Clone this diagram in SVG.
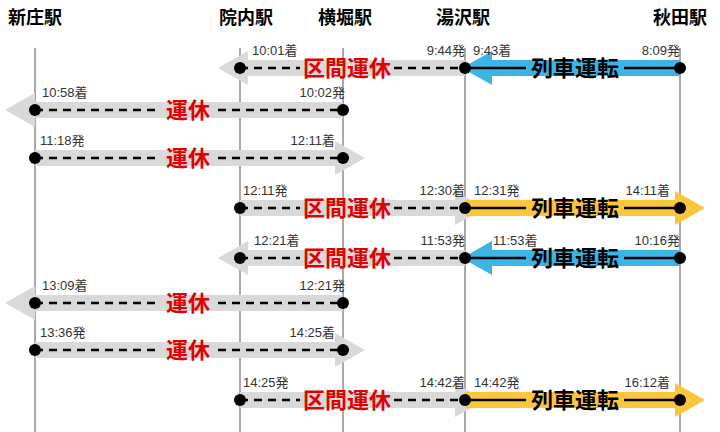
<svg xmlns="http://www.w3.org/2000/svg" width="720" height="432" viewBox="0 0 720 432">
<style>
.st{font:bold 18px "Noto Sans CJK JP","Liberation Sans",sans-serif;fill:#000;text-anchor:middle}
.t{font:13px "Liberation Sans","Noto Sans CJK JP",sans-serif;fill:#333}
.g{fill:#d9d9d9}.b{fill:#3cb4e6}.y{fill:#fcc63c}
.d{stroke:#000;stroke-width:2.5;stroke-dasharray:8,6;fill:none}
.s{stroke:#000;stroke-width:2.5;fill:none}
.lr{font:bold 22px "Noto Sans CJK JP",sans-serif;fill:#e30000;text-anchor:middle}
.lk{font:bold 22px "Noto Sans CJK JP",sans-serif;fill:#000;text-anchor:middle}
.v{stroke:#555;stroke-width:1}
</style>
<rect width="720" height="432" fill="#fff"/>
<g id="stations">
<text class="st" x="35" y="24">新庄駅</text><text class="st" x="246" y="24">院内駅</text>
<text class="st" x="345" y="24">横堀駅</text><text class="st" x="463" y="24">湯沢駅</text>
<text class="st" x="680" y="24">秋田駅</text>
<line class="v" x1="35" y1="48" x2="35" y2="432"/><line class="v" x1="240" y1="48" x2="240" y2="432"/>
<line class="v" x1="343" y1="48" x2="343" y2="432"/><line class="v" x1="465" y1="48" x2="465" y2="432"/>
<line class="v" x1="680" y1="48" x2="680" y2="432"/>
</g>
<g id="connectors">
<polygon class="g" points="465,60 248,60 248,51 218,68 248,85 248,76 465,76"/>
<polygon class="b" points="680,60 492,60 492,51 462,68 492,85 492,76 680,76"/>
<polygon class="g" points="343,102 35,102 35,93 5,110 35,127 35,118 343,118"/>
<polygon class="g" points="35,150 335,150 335,141 365,158 335,175 335,166 35,166"/>
<polygon class="g" points="240,200 455,200 455,191 485,208 455,225 455,216 240,216"/>
<polygon class="y" points="465,200 675,200 675,191 705,208 675,225 675,216 465,216"/>
<polygon class="g" points="465,250 248,250 248,241 218,258 248,275 248,266 465,266"/>
<polygon class="b" points="680,250 492,250 492,241 462,258 492,275 492,266 680,266"/>
<polygon class="g" points="343,295 35,295 35,286 5,303 35,320 35,311 343,311"/>
<polygon class="g" points="35,342 335,342 335,333 365,350 335,367 335,358 35,358"/>
<polygon class="g" points="240,392 455,392 455,383 485,400 455,417 455,408 240,408"/>
<polygon class="y" points="465,392 675,392 675,383 705,400 675,417 675,408 465,408"/>
<path class="d" d="M240,68H300M394,68H465M35,110H158M218,110H343M35,158H158M218,158H343M240,208H300M394,208H465M240,258H300M394,258H465M35,303H158M218,303H343M35,350H158M218,350H343M240,400H300M394,400H465"/>
<path class="s" d="M465,68H526M624,68H680M465,208H526M624,208H680M465,258H526M624,258H680M465,400H526M624,400H680"/>
<g fill="#000">
<circle cx="240" cy="68" r="6"/><circle cx="465" cy="68" r="6"/><circle cx="680" cy="68" r="6"/>
<circle cx="35" cy="110" r="6"/><circle cx="343" cy="110" r="6"/>
<circle cx="35" cy="158" r="6"/><circle cx="343" cy="158" r="6"/>
<circle cx="240" cy="208" r="6"/><circle cx="465" cy="208" r="6"/><circle cx="680" cy="208" r="6"/>
<circle cx="240" cy="258" r="6"/><circle cx="465" cy="258" r="6"/><circle cx="680" cy="258" r="6"/>
<circle cx="35" cy="303" r="6"/><circle cx="343" cy="303" r="6"/>
<circle cx="35" cy="350" r="6"/><circle cx="343" cy="350" r="6"/>
<circle cx="240" cy="400" r="6"/><circle cx="465" cy="400" r="6"/><circle cx="680" cy="400" r="6"/>
</g>
</g>
<g id="labels">
<text class="lr" x="347" y="76">区間運休</text><text class="lk" x="575" y="76">列車運転</text>
<text class="lr" x="188" y="118">運休</text><text class="lr" x="188" y="166">運休</text>
<text class="lr" x="347" y="216">区間運休</text><text class="lk" x="575" y="216">列車運転</text>
<text class="lr" x="347" y="266">区間運休</text><text class="lk" x="575" y="266">列車運転</text>
<text class="lr" x="188" y="311">運休</text><text class="lr" x="188" y="358">運休</text>
<text class="lr" x="347" y="408">区間運休</text><text class="lk" x="575" y="408">列車運転</text>
</g>
<g id="times" class="t">
<text x="252" y="55">10:01着</text><text x="465" y="55" text-anchor="end">9:44発</text>
<text x="473" y="55">9:43着</text><text x="680" y="55" text-anchor="end">8:09発</text>
<text x="42" y="97">10:58着</text><text x="345" y="97" text-anchor="end">10:02発</text>
<text x="40" y="145">11:18発</text><text x="335" y="145" text-anchor="end">12:11着</text>
<text x="243" y="195">12:11発</text><text x="465" y="195" text-anchor="end">12:30着</text>
<text x="474" y="195">12:31発</text><text x="670" y="195" text-anchor="end">14:11着</text>
<text x="254" y="245">12:21着</text><text x="465" y="245" text-anchor="end">11:53発</text>
<text x="493" y="245">11:53着</text><text x="680" y="245" text-anchor="end">10:16発</text>
<text x="42" y="290">13:09着</text><text x="345" y="290" text-anchor="end">12:21発</text>
<text x="40" y="337">13:36発</text><text x="335" y="337" text-anchor="end">14:25着</text>
<text x="243" y="387">14:25発</text><text x="465" y="387" text-anchor="end">14:42着</text>
<text x="474" y="387">14:42発</text><text x="670" y="387" text-anchor="end">16:12着</text>
</g>
</svg>
